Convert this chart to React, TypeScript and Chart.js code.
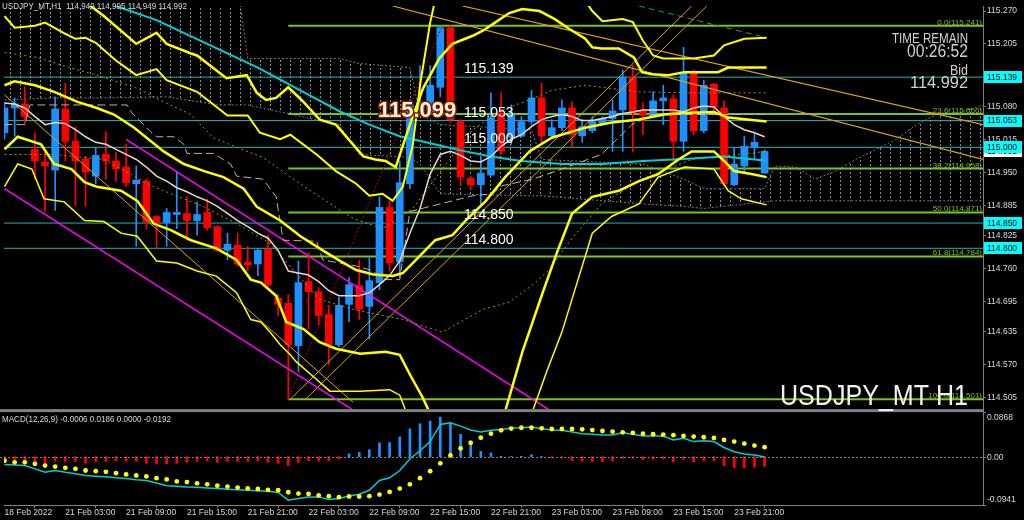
import React, { useEffect, useRef } from "react";
import { Chart, registerables } from "chart.js";
Chart.register(...registerables);

// ---- bars: hours counted from 21 Feb 03:00 (first visible bar is -6, last is 69) ----
const firstBar = -6;
const lastBar = 69;
const barHours = Array.from({ length: lastBar - firstBar + 1 }, (_, i) => firstBar + i);

const timeTickHours = [-6, 0, 6, 12, 18, 24, 30, 36, 42, 48, 54, 60, 66];
const timeTickLabels = ["18 Feb 2022", "21 Feb 03:00", "21 Feb 09:00", "21 Feb 15:00", "21 Feb 21:00", "22 Feb 03:00", "22 Feb 09:00", "22 Feb 15:00", "22 Feb 21:00", "23 Feb 03:00", "23 Feb 09:00", "23 Feb 15:00", "23 Feb 21:00"];
const priceTicks = [115.270, 115.205, 115.139, 115.080, 115.015, 114.950, 114.885, 114.825, 114.760, 114.695, 114.635, 114.570, 114.505];
const macdTicks = [0.0868, 0, -0.0941];

const candleOpen = [
  115.029, 115.078, 115.086, 114.996, 114.971, 114.955, 115.076, 115.012, 114.977, 114.943,
  114.986, 114.973, 114.961, 114.928, 114.933, 114.863, 114.851, 114.867, 114.869, 114.855,
  114.871, 114.843, 114.796, 114.806, 114.773, 114.769, 114.798, 114.701, 114.691, 114.607,
  114.734, 114.714, 114.669, 114.609, 114.689, 114.726, 114.685, 114.732, 114.881, 114.773,
  114.928, 115.074, 115.068, 115.119, 115.237, 115.051, 114.939, 114.926, 114.945, 115.068,
  115.020, 115.022, 115.051, 115.098, 115.023, 115.039, 115.078, 115.023, 115.033, 115.047,
  115.057, 115.074, 115.139, 115.072, 115.063, 115.092, 115.096, 115.012, 115.147, 115.033,
  115.125, 115.078, 114.926, 114.963, 115.000, 114.949];
const candleHigh = [
  115.088, 115.098, 115.119, 115.029, 114.990, 115.100, 115.127, 115.041, 114.982, 115.000,
  115.031, 114.990, 115.006, 114.963, 114.937, 114.865, 114.879, 114.951, 114.902, 114.892,
  114.898, 114.845, 114.830, 114.830, 114.804, 114.800, 114.826, 114.708, 114.708, 114.775,
  114.791, 114.722, 114.687, 114.703, 114.742, 114.777, 114.781, 114.902, 114.894, 114.973,
  115.094, 115.162, 115.162, 115.241, 115.241, 115.055, 114.943, 114.980, 115.108, 115.108,
  115.084, 115.061, 115.113, 115.127, 115.055, 115.094, 115.090, 115.055, 115.061, 115.061,
  115.094, 115.153, 115.162, 115.088, 115.110, 115.123, 115.104, 115.198, 115.153, 115.133,
  115.127, 115.092, 115.000, 115.022, 115.027, 114.995];
const candleLow = [
  115.016, 115.022, 115.045, 114.937, 114.873, 114.875, 114.973, 114.885, 114.883, 114.928,
  114.937, 114.933, 114.922, 114.804, 114.839, 114.800, 114.804, 114.839, 114.816, 114.826,
  114.836, 114.794, 114.777, 114.765, 114.755, 114.746, 114.718, 114.667, 114.501, 114.556,
  114.640, 114.648, 114.569, 114.605, 114.654, 114.659, 114.620, 114.718, 114.755, 114.742,
  114.918, 115.065, 115.065, 115.100, 115.049, 114.924, 114.918, 114.883, 114.943, 114.986,
  115.006, 115.020, 115.045, 115.006, 115.020, 115.033, 115.000, 115.010, 115.029, 115.045,
  114.992, 114.992, 114.992, 115.025, 115.061, 115.045, 114.973, 114.992, 115.025, 115.029,
  115.068, 114.924, 114.924, 114.951, 114.976, 114.949];
const candleClose = [
  115.078, 115.086, 115.061, 114.973, 114.963, 115.076, 115.012, 114.973, 114.951, 114.984,
  114.973, 114.957, 114.930, 114.935, 114.853, 114.851, 114.871, 114.871, 114.855, 114.867,
  114.841, 114.796, 114.808, 114.769, 114.767, 114.796, 114.728, 114.689, 114.609, 114.732,
  114.714, 114.667, 114.609, 114.687, 114.728, 114.679, 114.736, 114.881, 114.771, 114.930,
  115.084, 115.088, 115.123, 115.237, 115.055, 114.941, 114.926, 114.949, 115.059, 114.992,
  115.065, 115.051, 115.098, 115.023, 115.039, 115.078, 115.025, 115.041, 115.051, 115.057,
  115.072, 115.139, 115.068, 115.063, 115.092, 115.098, 115.012, 115.149, 115.033, 115.123,
  115.080, 114.928, 114.967, 115.002, 115.010, 114.992];

const fastMA = [
  115.088, 115.086, 115.078, 115.061, 115.045, 115.049, 115.047, 115.035, 115.021, 115.010,
  115.006, 114.996, 114.986, 114.976, 114.961, 114.943, 114.933, 114.920, 114.912, 114.902,
  114.894, 114.883, 114.869, 114.855, 114.843, 114.830, 114.820, 114.796, 114.755, 114.751,
  114.747, 114.734, 114.716, 114.706, 114.706, 114.706, 114.712, 114.728, 114.746, 114.775,
  114.830, 114.879, 114.947, 114.986, 114.992, 114.984, 114.973, 114.971, 114.982, 115.002,
  115.016, 115.025, 115.041, 115.055, 115.061, 115.065, 115.061, 115.053, 115.053, 115.057,
  115.061, 115.067, 115.070, 115.074, 115.074, 115.074, 115.074, 115.070, 115.078, 115.082,
  115.080, 115.061, 115.045, 115.035, 115.029, 115.021];

const macdMain = [
  -0.0154, -0.0160, -0.0173, -0.0237, -0.0302, -0.0269, -0.0302, -0.0333, -0.0366, -0.0379,
  -0.0391, -0.0410, -0.0423, -0.0448, -0.0462, -0.0514, -0.0564, -0.0577, -0.0591, -0.0596,
  -0.0610, -0.0621, -0.0635, -0.0645, -0.0654, -0.0664, -0.0673, -0.0698, -0.0847, -0.0814,
  -0.0783, -0.0783, -0.0833, -0.0814, -0.0764, -0.0731, -0.0654, -0.0462, -0.0410, -0.0269,
  -0.0044, 0.0115, 0.0294, 0.0629, 0.0660, 0.0596, 0.0519, 0.0481, 0.0514, 0.0529,
  0.0558, 0.0564, 0.0577, 0.0544, 0.0519, 0.0514, 0.0481, 0.0448, 0.0437, 0.0423,
  0.0423, 0.0468, 0.0437, 0.0404, 0.0404, 0.0404, 0.0327, 0.0360, 0.0294, 0.0308,
  0.0294, 0.0179, 0.0096, 0.0052, 0.0033, -0.0006];
const macdSignal = [
  -0.0077, -0.0110, -0.0110, -0.0140, -0.0173, -0.0192, -0.0217, -0.0237, -0.0269, -0.0283,
  -0.0294, -0.0321, -0.0346, -0.0366, -0.0385, -0.0418, -0.0443, -0.0481, -0.0494, -0.0519,
  -0.0539, -0.0564, -0.0583, -0.0602, -0.0616, -0.0629, -0.0648, -0.0654, -0.0693, -0.0718,
  -0.0725, -0.0756, -0.0770, -0.0789, -0.0775, -0.0775, -0.0770, -0.0737, -0.0687, -0.0621,
  -0.0539, -0.0418, -0.0283, -0.0129, 0.0025, 0.0160, 0.0269, 0.0371, 0.0448, 0.0514,
  0.0548, 0.0564, 0.0564, 0.0552, 0.0539, 0.0539, 0.0539, 0.0533, 0.0519, 0.0500,
  0.0487, 0.0475, 0.0462, 0.0448, 0.0437, 0.0429, 0.0418, 0.0404, 0.0391, 0.0379,
  0.0366, 0.0327, 0.0294, 0.0256, 0.0217, 0.0186];
const macdHist = [
  -0.0038, -0.0052, -0.0077, -0.0110, -0.0173, -0.0090, -0.0090, -0.0090, -0.0129, -0.0096,
  -0.0090, -0.0077, -0.0090, -0.0090, -0.0129, -0.0140, -0.0140, -0.0129, -0.0110, -0.0090,
  -0.0077, -0.0110, -0.0090, -0.0090, -0.0090, -0.0077, -0.0110, -0.0129, -0.0173, -0.0110,
  -0.0077, -0.0077, -0.0077, -0.0044, 0.0052, 0.0083, 0.0135, 0.0269, 0.0275, 0.0385,
  0.0544, 0.0641, 0.0693, 0.0770, 0.0660, 0.0437, 0.0308, 0.0102, 0.0071, 0.0008,
  0.0004, 0.0008, 0.0038, 0.0004, -0.0025, -0.0025, -0.0077, -0.0090, -0.0096, -0.0096,
  -0.0083, -0.0033, -0.0033, -0.0063, -0.0052, -0.0038, -0.0096, -0.0052, -0.0102, -0.0077,
  -0.0077, -0.0179, -0.0217, -0.0217, -0.0206, -0.0192];

// ---- indicator lines as [hour, price] vertices ----
const bandOuterUpper = [[-6, 115.260], [-5, 115.237], [-3, 115.241], [-2, 115.247], [0, 115.225], [1, 115.215], [2, 115.217], [3, 115.207], [5, 115.172], [7, 115.143], [9, 115.155], [10, 115.133], [13, 115.110], [16, 115.063], [18, 115.063], [19.2, 115.029], [21.2, 115.016], [22.2, 115.025], [24.8, 114.986], [26.7, 114.953], [28.7, 114.928], [30, 114.904], [31.3, 114.908], [32.3, 114.894], [33.3, 114.922], [34.3, 115.006], [35, 115.123], [36, 115.247], [37, 115.338], [42, 115.436], [47, 115.397], [51, 115.299], [52, 115.270], [53, 115.250], [55, 115.254], [56, 115.248], [57, 115.211], [58, 115.182], [59, 115.176], [62, 115.176], [64, 115.182], [65, 115.202], [67, 115.215], [69.2, 115.217]];
const bandUpper = [[-6, 115.368], [0, 115.309], [2.5, 115.280], [3.8, 115.260], [7, 115.205], [9, 115.227], [10, 115.205], [12.4, 115.186], [13, 115.182], [15.9, 115.137], [17.9, 115.143], [18.9, 115.108], [19.8, 115.094], [20.8, 115.098], [22, 115.119], [23.5, 115.090], [25.1, 115.055], [26.7, 115.045], [29.4, 114.982], [30.6, 114.976], [31.6, 114.973], [32.6, 114.961], [34, 115.045], [35.3, 115.117], [36.9, 115.176], [38.2, 115.205], [40.2, 115.221], [41.2, 115.231], [42.4, 115.247], [43.8, 115.266], [45.1, 115.274], [46.8, 115.270], [48.3, 115.254], [49.7, 115.235], [51.3, 115.215], [52, 115.198], [52.9, 115.196], [54.6, 115.196], [56.1, 115.178], [56.9, 115.149], [57.9, 115.145], [59.5, 115.143], [61.1, 115.149], [64.4, 115.149], [65.4, 115.158], [69.2, 115.158]];
const bandInnerUpper = [[-6, 115.123], [-5, 115.131], [-3, 115.123], [-1.1, 115.110], [1.2, 115.090], [3.1, 115.078], [4.8, 115.065], [6.8, 115.039], [9.7, 114.992], [11.7, 114.967], [13.7, 114.953], [15.6, 114.941], [17.6, 114.918], [18.9, 114.882], [21.2, 114.855], [23.2, 114.824], [25.4, 114.796], [27.1, 114.775], [28.7, 114.757], [30.4, 114.748], [32.3, 114.745], [33.3, 114.751], [34.6, 114.777], [36.5, 114.816], [38.2, 114.826], [39.5, 114.855], [41.5, 114.894], [43.4, 114.941], [45.8, 114.992], [48, 115.019], [51.3, 115.039], [53.9, 115.049], [56.6, 115.055], [59.1, 115.065], [61.1, 115.068], [64, 115.070], [65.4, 115.059], [69.2, 115.051]];
const bandLower = [[-6, 114.996], [-4.7, 115.021], [-2.4, 115.006], [-1.1, 114.967], [0.6, 114.957], [1.9, 114.931], [3.1, 114.922], [5.5, 114.914], [7.1, 114.894], [8.7, 114.849], [10.4, 114.836], [12.4, 114.816], [14.9, 114.800], [16.9, 114.777], [18.3, 114.738], [19.3, 114.732], [20.8, 114.706], [21.8, 114.654], [23.5, 114.640], [25.1, 114.614], [26.7, 114.601], [29.1, 114.591], [31.6, 114.595], [33, 114.589], [34, 114.550], [35.3, 114.503], [37.2, 114.419], [40.2, 114.360], [42.1, 114.399], [43.4, 114.477], [45.1, 114.595], [47.1, 114.712], [48.5, 114.791], [50, 114.869], [52, 114.902], [54.6, 114.914], [56.6, 114.933], [58.5, 114.947], [60.5, 114.976], [61.8, 114.992], [64, 114.992], [65, 114.973], [66, 114.953], [67.7, 114.947], [69.2, 114.941]];
const bandOuterLower = [[-6, 114.922], [-4.7, 114.967], [-3.3, 114.957], [-2.1, 114.898], [-0.1, 114.892], [1.9, 114.855], [3.8, 114.853], [5.5, 114.830], [7.1, 114.824], [9, 114.775], [11, 114.771], [13, 114.755], [14.9, 114.745], [16.9, 114.712], [18.3, 114.659], [19.3, 114.654], [20.2, 114.634], [21.2, 114.609], [22.2, 114.589], [22.8, 114.575], [24.8, 114.540], [26.1, 114.517], [29.1, 114.517], [32, 114.520], [33, 114.509], [33.5, 114.483], [35.3, 114.399], [39.2, 114.262], [43.1, 114.301], [46.1, 114.477], [47.5, 114.556], [49, 114.634], [50.5, 114.732], [52, 114.830], [53.9, 114.863], [56.6, 114.888], [58.5, 114.941], [61.1, 114.961], [64, 114.957], [65.4, 114.914], [66.7, 114.898], [69.2, 114.886]];
const slowMA = [[-6, 115.378], [5, 115.280], [9, 115.252], [14, 115.205], [19, 115.158], [23, 115.115], [27, 115.072], [30, 115.045], [33, 115.022], [36, 115.008], [39, 114.994], [42, 114.982], [45, 114.973], [49, 114.967], [53, 114.967], [57, 114.973], [61, 114.977], [65, 114.982], [67, 114.978], [69, 114.974]];
const kijunLine = [[-6, 115.045], [-4, 115.045], [-3.5, 115.084], [6.1, 115.084], [6.5, 115.070], [8.4, 115.031], [9, 115.021], [10.7, 115.021], [11.7, 115.006], [12, 114.988], [14.6, 114.988], [16.3, 114.967], [16.9, 114.943], [19.5, 114.937], [20.8, 114.902], [21.5, 114.816], [24.8, 114.814], [25.4, 114.777], [28.7, 114.765], [30.1, 114.757], [31.6, 114.738], [33, 114.738], [34, 114.873], [40.2, 114.904], [42.1, 114.908], [43.1, 114.924], [46.1, 114.937], [49, 114.957], [52.9, 114.986], [55.9, 115.045], [57.9, 115.065], [69, 115.065]];
const middleDotted1 = [[-6, 115.188], [-2.8, 115.178], [0.6, 115.157], [3.8, 115.139], [7.1, 115.117], [9.7, 115.090], [12.4, 115.065], [14.6, 115.019], [16.9, 115.000], [19.5, 114.980], [22.5, 114.937], [25.4, 114.898], [28.4, 114.859], [31.3, 114.839], [34.3, 114.879], [37.2, 114.957], [40.2, 115.035], [43.1, 115.074], [45.8, 115.094], [48, 115.113], [51.3, 115.123], [56.6, 115.110], [61.1, 115.108], [69.2, 115.108]];
const middleDotted2 = [[-6, 114.986], [-1.1, 114.986], [3.8, 114.976], [8.7, 114.922], [13.7, 114.882], [16.9, 114.849], [20.2, 114.810], [22.5, 114.757], [25.1, 114.699], [28.4, 114.679], [33.3, 114.659], [37.2, 114.634], [41.2, 114.679], [43.8, 114.693], [46.4, 114.732], [47.7, 114.757], [50, 114.820], [52.9, 114.888], [56.9, 114.937], [61.8, 114.976], [69.2, 114.992]];

// cloud (hatched area) boundaries
const cloudHours = [-6, -1, 4, 10, 15, 17, 18, 27, 29, 34, 35, 37, 46, 47, 57, 61, 63, 69, 70, 72, 74, 76, 78, 80, 82, 84, 86, 88, 90.6];
const cloudTop = [115.319, 115.319, 115.319, 115.319, 115.319, 115.319, 115.176, 115.176, 115.166, 115.158, 115.065, 115.045, 115.035, 114.976, 114.967, 114.937, 114.918, 114.918, 114.963, 114.961, 114.937, 114.953, 114.976, 114.996, 115.016, 115.045, 115.065, 115.068, 115.084];
const cloudBottom = [115.094, 115.098, 115.098, 115.100, 115.084, 115.084, 115.084, 115.045, 114.986, 114.980, 114.967, 114.908, 114.904, 114.904, 114.888, 114.883, 114.879, 114.892, 114.894, 114.894, 114.894, 114.894, 114.894, 114.894, 114.894, 114.894, 114.894, 114.894, 114.894];

// drawn straight lines
const trendDownLeft = [[-6, 115.104], [28.4, 114.495]];
const trendUpA = [[22.2, 114.501], [61.8, 115.280]];
const trendUpB = [[23.7, 114.501], [63.3, 115.280]];
const trendDownA = [[39.2, 115.280], [90.6, 115.045]];
const trendDownB = [[32.3, 115.280], [90.6, 114.976]];
const greenDashed = [[56.6, 115.280], [69.2, 115.217]];
const channelUpper = [[6, 115.016], [50, 114.451]];
const channelLower = [[-6, 114.918], [30, 114.459]];
const fibDiagonal = [[22, 114.501], [37.2, 115.241]];

const cyanLevels = [115.139, 115.053, 115.000, 114.850, 114.800];
const fibRatios = ["0.0", "23.6", "38.2", "50.0", "61.8", "100.0"];
const fibPrices = [115.241, 115.066, 114.958, 114.871, 114.784, 114.501];
const fibStartHour = 22;
const bidPrice = 114.992;
const markPrice = 115.099;
const headerText = "USDJPY_MT,H1  114.949 114.995 114.949 114.992";
const macdText = "MACD(12,26,9) -0.0006 0.0186 0.0000 -0.0192";

const X_MIN = -6.05;
const X_MAX = 90.55;
const UP = "#1E90FF";
const DOWN = "#FF0000";
const priceClip = { left: 0, top: 0, right: 0, bottom: -96 };

function pts(a: number[][]) {
  return a.map((p) => ({ x: p[0], y: p[1] }));
}
function lineDs(a: number[][], color: string, width: number, extra: any = {}) {
  return {
    type: "line", data: pts(a), borderColor: color, borderWidth: width, pointRadius: 0,
    tension: 0, fill: false, clip: priceClip, yAxisID: "y", ...extra,
  };
}

function fitText(ctx: any, text: string, x: number, y: number, font: string, color: string, width: number, align: string) {
  ctx.save();
  ctx.font = font;
  const w = ctx.measureText(text).width;
  ctx.translate(x, y);
  ctx.scale(width / w, 1);
  ctx.textAlign = align;
  ctx.textBaseline = "alphabetic";
  ctx.fillStyle = color;
  ctx.fillText(text, 0, 0);
  ctx.restore();
}

const overlay = {
  id: "overlay",
  beforeDraw(chart: any) {
    const ctx = chart.ctx;
    ctx.save();
    ctx.fillStyle = "#000";
    ctx.fillRect(0, 0, chart.width, chart.height);
    ctx.restore();
  },
  afterDraw(chart: any) {
    const ctx = chart.ctx;
    const y = chart.scales.y;
    const ym = chart.scales.ym;
    const area = chart.chartArea;
    ctx.save();
    // panel separator
    const panelTop = ym.getPixelForValue(macdTicks[0]);
    ctx.fillStyle = "#808080";
    ctx.fillRect(0, panelTop - 3, area.right, 3);
    // MACD zero line
    const z = Math.round(ym.getPixelForValue(0)) + 0.5;
    ctx.strokeStyle = "#808080";
    ctx.lineWidth = 1;
    ctx.setLineDash([2, 2]);
    ctx.beginPath(); ctx.moveTo(0, z); ctx.lineTo(area.right, z); ctx.stroke();
    ctx.setLineDash([]);
    // MACD axis labels
    ctx.font = "8.5px 'Liberation Sans'";
    ctx.fillStyle = "#D8D8D8";
    ctx.textAlign = "left";
    macdTicks.forEach((v, i) => {
      const py = ym.getPixelForValue(v);
      const label = v === 0 ? "0.00" : v.toFixed(4);
      ctx.textBaseline = i === 0 ? "top" : i === 2 ? "bottom" : "middle";
      ctx.fillText(label, area.right + 4, i === 0 ? py + 1 : i === 2 ? py - 1 : py + 1);
      ctx.strokeStyle = "#808080";
      ctx.beginPath(); ctx.moveTo(area.right, Math.round(py) + 0.5); ctx.lineTo(area.right + 3, Math.round(py) + 0.5); ctx.stroke();
    });
    // bid box (white) then cyan level boxes on the price axis
    const boxes = [{ v: bidPrice, c: "#FFFFFF" }].concat(cyanLevels.map((v) => ({ v, c: "#00FFFF" })));
    boxes.forEach((b) => {
      const py = y.getPixelForValue(b.v);
      ctx.fillStyle = b.c;
      ctx.fillRect(area.right + 1, Math.round(py) - 6, 38, 12);
      ctx.fillStyle = "#000";
      ctx.font = "8.5px 'Liberation Sans'";
      ctx.textBaseline = "middle";
      ctx.textAlign = "left";
      ctx.fillText(b.v.toFixed(3), area.right + 4, py + 0.5);
    });
    // fibonacci labels
    ctx.font = "8px 'Liberation Sans'";
    ctx.fillStyle = "#7CC21E";
    ctx.textAlign = "right";
    ctx.textBaseline = "alphabetic";
    fibPrices.forEach((p, i) => {
      const py = y.getPixelForValue(p);
      ctx.fillText(fibRatios[i] + "(" + p.toFixed(3) + ")", area.right - 1, py - 1);
    });
    // level labels in the chart
    ctx.font = "14px 'Liberation Sans'";
    ctx.fillStyle = "#FFFFFF";
    ctx.textAlign = "left";
    cyanLevels.forEach((p) => {
      ctx.fillText(p.toFixed(3), 464, y.getPixelForValue(p) - 4);
    });
    // marked price (bold with dark red shadow)
    const my = y.getPixelForValue(markPrice) + 20;
    ctx.font = "bold 22px 'Liberation Sans'";
    ctx.lineWidth = 3;
    ctx.strokeStyle = "#7A1E00";
    ctx.strokeText(markPrice.toFixed(3), 378, my);
    ctx.fillStyle = "#FFF3DA";
    ctx.fillText(markPrice.toFixed(3), 378, my);
    // info texts on the right
    fitText(ctx, "TIME REMAIN", 968, 43, "15px 'Liberation Sans'", "#D0D0D0", 76, "right");
    fitText(ctx, "00:26:52", 968, 57, "19px 'Liberation Sans'", "#D0D0D0", 61, "right");
    fitText(ctx, "Bid", 968, 75, "14px 'Liberation Sans'", "#D0D0D0", 18, "right");
    fitText(ctx, bidPrice.toFixed(3), 968, 88, "17px 'Liberation Sans'", "#D0D0D0", 58, "right");
    fitText(ctx, "USDJPY_MT H1", 968, 405, "30px 'Liberation Sans'", "#F2F2F2", 188, "right");
    // headers
    fitText(ctx, headerText, 2, 9, "9px 'Liberation Sans'", "#D8D8D8", 185, "left");
    fitText(ctx, macdText, 2, 422, "9px 'Liberation Sans'", "#D8D8D8", 169, "left");
    ctx.restore();
  },
};

export default function App() {
  const ref = useRef<HTMLCanvasElement | null>(null);
  useEffect(() => {
    document.body.style.margin = "0";
    document.body.style.background = "#000";
    const canvas = ref.current;
    if (!canvas) return;

    const pc = document.createElement("canvas");
    pc.width = 10; pc.height = 4;
    const pctx = pc.getContext("2d") as CanvasRenderingContext2D;
    pctx.fillStyle = "#8C8C8C";
    pctx.fillRect(0, 0, 1, 2);
    const hatch = (canvas.getContext("2d") as CanvasRenderingContext2D).createPattern(pc, "repeat");

    const upDown = barHours.map((_, i) => (candleClose[i] >= candleOpen[i] ? UP : DOWN));
    const yellow = "#FFFF00";
    const gold = "#E0A419";

    const datasets: any[] = [
      { type: "line", yAxisID: "ym", data: barHours.map((h, i) => ({ x: h, y: macdSignal[i] })), showLine: false, pointRadius: 2.4, pointBackgroundColor: yellow, pointBorderWidth: 0, borderColor: yellow },
      { type: "line", yAxisID: "ym", data: barHours.map((h, i) => ({ x: h, y: macdMain[i] })), borderColor: "#00CED1", borderWidth: 1.5, pointRadius: 0, tension: 0 },
      { type: "bar", yAxisID: "ym", data: barHours.map((h, i) => ({ x: h, y: macdHist[i] })), backgroundColor: macdHist.map((v) => (v >= 0 ? UP : DOWN)), barThickness: 2, grouped: false, borderWidth: 0 },
      lineDs(bandOuterUpper, yellow, 2),
      lineDs(bandUpper, yellow, 2.5),
      lineDs(bandInnerUpper, yellow, 2.5),
      lineDs(bandLower, yellow, 2.5),
      lineDs(bandOuterLower, yellow, 1.5),
      lineDs(barHours.map((h, i) => [h, fastMA[i]]), "#EBD6CE", 1.5),
      lineDs(slowMA, "#00CED1", 2),
      lineDs(kijunLine, "#C8B09A", 1, { borderDash: [8, 4] }),
      lineDs(middleDotted1, "#9C9C00", 1, { borderDash: [2, 3] }),
      lineDs(middleDotted2, "#9C9C00", 1, { borderDash: [2, 3] }),
      lineDs(channelUpper, "#FF00FF", 1.5),
      lineDs(channelLower, "#FF00FF", 1.5),
      lineDs(trendDownLeft, gold, 1),
      lineDs(trendUpA, gold, 1),
      lineDs(trendUpB, gold, 1),
      lineDs(trendDownA, gold, 1.2),
      lineDs(trendDownB, gold, 1.2),
      lineDs(greenDashed, "#2E9E3E", 1, { borderDash: [6, 4] }),
      lineDs(fibDiagonal, "#C00000", 1, { borderDash: [2, 2] }),
      { type: "bar", yAxisID: "y", clip: priceClip, data: barHours.map((h, i) => ({ x: h, y: [candleOpen[i], candleClose[i]] })), backgroundColor: upDown, barThickness: 7, grouped: false, borderWidth: 0, minBarLength: 1 },
      { type: "bar", yAxisID: "y", clip: priceClip, data: barHours.map((h, i) => ({ x: h, y: [candleLow[i], candleHigh[i]] })), backgroundColor: upDown, barThickness: 1, grouped: false, borderWidth: 0 },
    ];
    cyanLevels.forEach((p) => datasets.push(lineDs([[X_MIN, p], [X_MAX, p]], "#1FB5B5", 1)));
    fibPrices.forEach((p) => datasets.push(lineDs([[fibStartHour, p], [X_MAX, p]], "#7CC21E", 2)));
    datasets.push(lineDs(cloudHours.map((h, i) => [h, cloudTop[i]]), "#7A7A7A", 1, { borderDash: [2, 2], fill: "+1", backgroundColor: hatch }));
    datasets.push(lineDs(cloudHours.map((h, i) => [h, cloudBottom[i]]), "#7A7A7A", 1, { borderDash: [2, 2] }));

    const tickFont = { family: "'Liberation Sans'", size: 8.5 };
    const chart = new Chart(canvas, {
      type: "bar",
      data: { datasets },
      plugins: [overlay],
      options: {
        animation: false,
        responsive: false,
        devicePixelRatio: 1,
        events: [],
        layout: { padding: 0 },
        plugins: { legend: { display: false }, tooltip: { enabled: false } },
        scales: {
          x: {
            type: "linear", min: X_MIN, max: X_MAX, offset: false, position: "bottom",
            grid: { display: true, drawOnChartArea: false, drawTicks: true, tickLength: 3, color: "#808080" },
            border: { display: true, color: "#808080", width: 1 },
            ticks: {
              autoSkip: false, maxRotation: 0, minRotation: 0, align: "start", padding: 0,
              color: "#D8D8D8", font: tickFont,
              callback: (v: any) => { const k = timeTickHours.indexOf(Number(v)); return k >= 0 ? timeTickLabels[k] : ""; },
            },
            afterBuildTicks: (s: any) => { s.ticks = timeTickHours.map((v) => ({ value: v })); },
            afterFit: (s: any) => { s.height = 15; },
          },
          y: {
            type: "linear", position: "right", min: 114.2915, max: 115.2798,
            grid: { display: true, drawOnChartArea: false, drawTicks: true, tickLength: 3, color: "#808080" },
            border: { display: true, color: "#808080", width: 1 },
            ticks: { autoSkip: false, padding: 1, color: "#D8D8D8", font: tickFont, callback: (v: any) => Number(v).toFixed(3) },
            afterBuildTicks: (s: any) => { s.ticks = priceTicks.map((v) => ({ value: v })); },
            afterFit: (s: any) => { s.width = 41; },
          },
          ym: { type: "linear", display: false, min: -0.0941, max: 0.8776 },
        },
      } as any,
    } as any);
    return () => chart.destroy();
  }, []);
  return (
    <div style={{ position: "fixed", left: 0, top: 0, width: 1024, height: 520, background: "#000" }}>
      <canvas ref={ref} width={1024} height={520} style={{ display: "block", width: 1024, height: 520 }} />
    </div>
  );
}
